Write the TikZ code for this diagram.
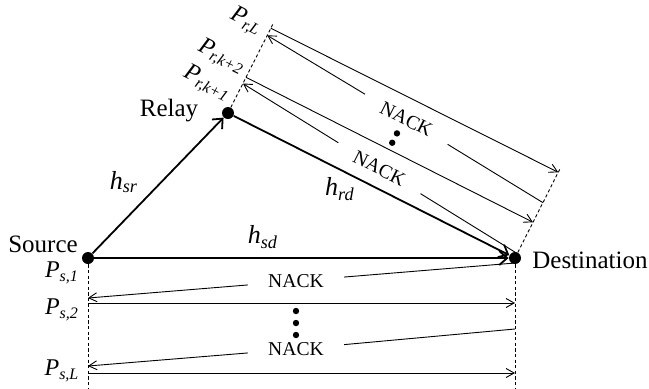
\documentclass[tikz,border=0pt]{standalone}
\usepackage{fontspec}
\setmainfont{Liberation Serif}
\usetikzlibrary{arrows.meta,calc}
\newcommand{\Plab}[1]{\textit{P}\textsubscript{\textit{#1}}}
\newcommand{\hlab}[1]{\textit{h}\textsubscript{\textit{#1}}}
\tikzset{stn/.style={circle,fill,inner sep=0pt,minimum size=6pt},
link/.style={-{Straight Barb[length=4pt,width=7pt]},line width=.9pt},
wire/.style={line width=.45pt},
msg/.style={wire,-{Straight Barb[length=4pt,width=4.5pt]}},
guide/.style={line width=.45pt,dash pattern=on 1.6pt off 1.2pt},
lab/.style={font=\fontsize{12.5}{14}\selectfont,inner sep=1pt},
hl/.style={font=\fontsize{13}{15}\selectfont,inner sep=0pt},
plab/.style={font=\fontsize{12}{14}\selectfont,inner sep=0pt},
nack/.style={font=\fontsize{9.8}{11}\selectfont,inner xsep=10pt,inner ysep=1pt},
ellip/.style={circle,fill,inner sep=0pt,minimum size=3.2pt}}

\begin{document}
\begin{tikzpicture}[x=.5pt,y=-.5pt]
\useasboundingbox (0,0) rectangle (649,388);
% stations
\node[stn] (src) at (88,258) {};
\node[stn] (rly) at (228,113) {};
\node[stn] (dst) at (515,258) {};
\node[lab] (srcl) at (43,244) {Source};
\node[lab] (rlyl) at (169,111) {Relay};
\node[lab] (dstl) at (590,260) {Destination};
% channels
\draw[link] (src) -- (rly);
\draw[link] (src) -- (dst);
\draw[link] (rly) -- (dst);
\node[hl] (hsr) at (124,182) {\hlab{sr}};
\node[hl] (hrd) at (340,189) {\hlab{rd}};
\node[hl] (hsd) at (263,237) {\hlab{sd}};
% source -> destination rounds
\coordinate (sb) at (88,388);
\coordinate (db) at (515,388);
\draw[guide] (src) -- (sb);
\draw[guide] (dst) -- (db);
\coordinate (dn1) at (515,263);
\coordinate (sn1) at (88,298);
\node[nack] (nk1) at (296,281) {NACK};
\draw[wire] (dn1) -- (nk1);
\draw[msg] (nk1) -- (sn1);
\coordinate (sp2) at (88,303);
\coordinate (dp2) at (515,303);
\draw[msg] (sp2) -- (dp2);
\node[ellip] (bd1) at (296,311) {};
\node[ellip] (bd2) at (296,323) {};
\node[ellip] (bd3) at (296,335) {};
\coordinate (dn2) at (515,329);
\coordinate (sn2) at (88,366);
\node[nack] (nk2) at (296,349) {NACK};
\draw[wire] (dn2) -- (nk2);
\draw[msg] (nk2) -- (sn2);
\coordinate (spl) at (88,373);
\coordinate (dpl) at (515,373);
\draw[msg] (spl) -- (dpl);
\node[plab] (ps1) at (62,273) {\Plab{s,1}};
\node[plab] (ps2) at (62,310) {\Plab{s,2}};
\node[plab] (psl) at (62,371) {\Plab{s,L}};
% relay -> destination rounds
\begin{scope}[shift={(228,113)},rotate=-26.8]
\coordinate (rt) at (0,-100);
\coordinate (dt) at (321.5,-101);
\draw[guide] (rly) -- (rt);
\draw[guide] (dst) -- (dt);
\coordinate (dm1) at (321.5,-5);
\coordinate (rm1) at (0,-33);
\node[nack,transform shape] (tk1) at (160,-19) {NACK};
\draw[wire] (dm1) -- (tk1);
\draw[msg] (tk1) -- (rm1);
\coordinate (rq2) at (0,-40);
\coordinate (dq2) at (321.5,-40);
\draw[msg] (rq2) -- (dq2);
\node[ellip] (td1) at (160,-47.5) {};
\node[ellip] (td2) at (160,-58) {};
\coordinate (dm2) at (321.5,-62);
\coordinate (rm2) at (0,-87);
\node[nack,transform shape] (tk2) at (162,-75) {NACK};
\draw[wire] (dm2) -- (tk2);
\draw[msg] (tk2) -- (rm2);
\coordinate (rql) at (0,-95);
\coordinate (dql) at (321.5,-96);
\draw[msg] (rql) -- (dql);
\node[plab,transform shape] (pr1) at (-32,-17) {\Plab{r,k+1}};
\node[plab,transform shape] (pr2) at (-31,-47) {\Plab{r,k+2}};
\node[plab,transform shape] (prl) at (-25,-90) {\Plab{r,L}};
\end{scope}
\end{tikzpicture}
\end{document}
